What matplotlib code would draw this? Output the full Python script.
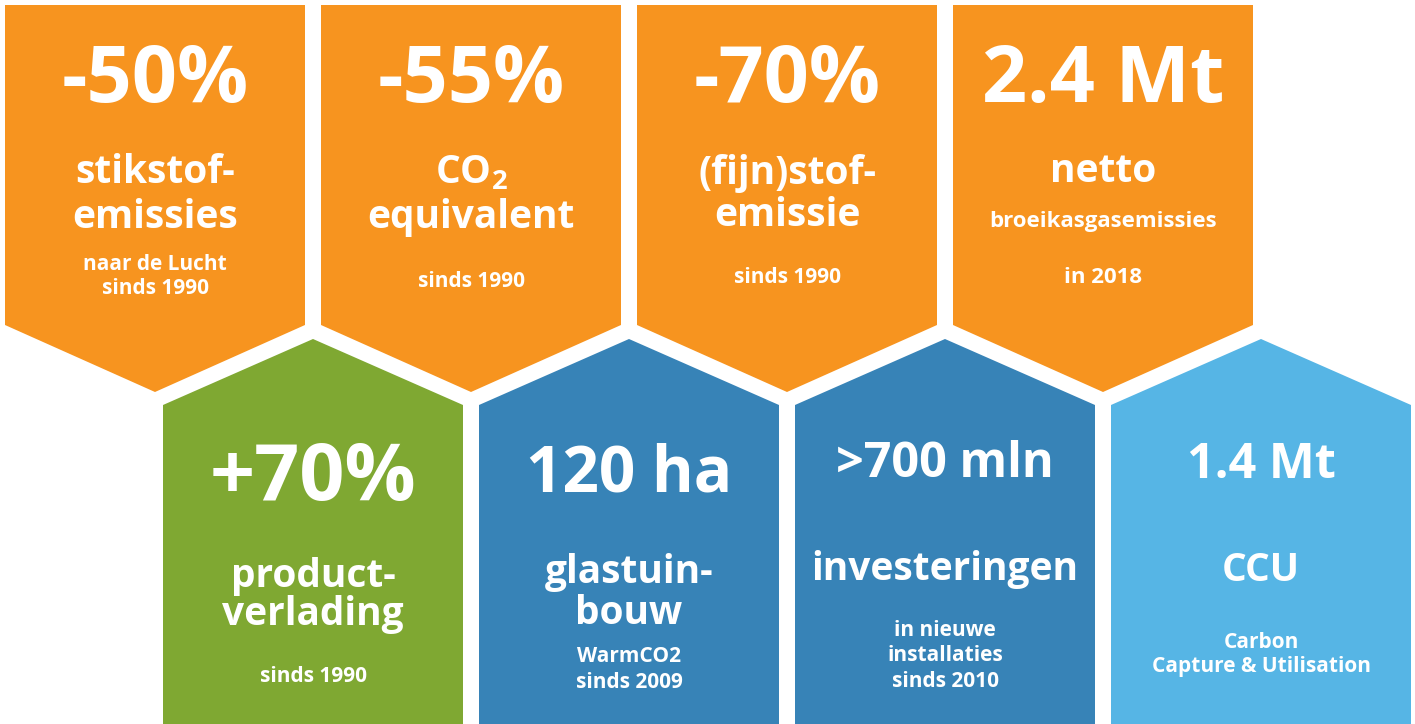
import numpy as np
import matplotlib
matplotlib.use("Agg")
import matplotlib.pyplot as plt
from matplotlib.patches import Polygon

plt.rcParams['font.family'] = ['Open Sans', 'DejaVu Sans']
plt.rcParams['mathtext.fontset'] = 'custom'
plt.rcParams['mathtext.rm'] = 'Open Sans:bold'
plt.rcParams['mathtext.default'] = 'rm'

# Data
top_values = ["-50%", "-55%", "-70%", "2.4 Mt"]
top_labels = [["stikstof-", "emissies"], ["CO$_2$", "equivalent"],
              ["(fijn)stof-", "emissie"], ["netto"]]
top_notes = [["naar de Lucht", "sinds 1990"], ["sinds 1990"],
             ["sinds 1990"], ["broeikasgasemissies", "in 2018"]]

bottom_values = ["+70%", "120 ha", ">700 mln", "1.4 Mt"]
bottom_labels = [["product-", "verlading"], ["glastuin-", "bouw"],
                 ["investeringen"], ["CCU"]]
bottom_notes = [["sinds 1990"], ["WarmCO2", "sinds 2009"],
                ["in nieuwe", "installaties", "sinds 2010"],
                ["Carbon", "Capture & Utilisation"]]

top_colors = ["#F7941F"] * 4
bottom_colors = ["#7FA832", "#3783B7", "#3783B7", "#56B5E5"]

# layout (pixel coords, y down)
W, H = 1415, 724
top_cx = [155, 471, 787, 1103]
bot_cx = [313, 629, 945, 1261]
half_w = 150

# baselines per block: (value, labels, notes)
top_base = [(102, [183, 228], [270, 294]),
            (102, [183, 228], [287]),
            (102, [184, 226], [283]),
            (102, [182], [227, 283])]
bot_base = [(500, [587, 625], [682]),
            (491, [583, 624], [662, 688]),
            (477, [580], [636, 661, 687]),
            (478, [581], [648, 672])]
top_vsize = [57, 57, 57, 57]
bot_vsize = [57, 46, 35, 35]
label_size = 28
top_note_size = [15, 15, 15, 16]
bot_note_size = [15, 15, 15, 15]

fig = plt.figure(figsize=(W / 100, H / 100), dpi=100)
ax = fig.add_axes([0, 0, 1, 1])
ax.set_xlim(0, W)
ax.set_ylim(H, 0)
ax.axis('off')

# top row: pointing down
for cx, col in zip(top_cx, top_colors):
    pts = [(cx - half_w, 5), (cx + half_w, 5), (cx + half_w, 325),
           (cx, 392), (cx - half_w, 325)]
    ax.add_patch(Polygon(pts, closed=True, fc=col, ec='none'))

# bottom row: pointing up
for cx, col in zip(bot_cx, bottom_colors):
    pts = [(cx - half_w, 405), (cx, 339), (cx + half_w, 405),
           (cx + half_w, H + 10), (cx - half_w, H + 10)]
    ax.add_patch(Polygon(pts, closed=True, fc=col, ec='none'))


def put_text(cx, val, labels, notes, base, vsize, nsize):
    ax.text(cx, base[0], val, ha='center', va='baseline', color='white',
            fontsize=vsize, fontweight='bold')
    for s, y in zip(labels, base[1]):
        ax.text(cx, y, s, ha='center', va='baseline', color='white',
                fontsize=label_size, fontweight='bold')
    for s, y in zip(notes, base[2]):
        ax.text(cx, y, s, ha='center', va='baseline', color='white',
                fontsize=nsize, fontweight='bold')


for i in range(4):
    put_text(top_cx[i], top_values[i], top_labels[i], top_notes[i],
             top_base[i], top_vsize[i], top_note_size[i])
    put_text(bot_cx[i], bottom_values[i], bottom_labels[i], bottom_notes[i],
             bot_base[i], bot_vsize[i], bot_note_size[i])

fig.savefig("out.png", dpi=100)
